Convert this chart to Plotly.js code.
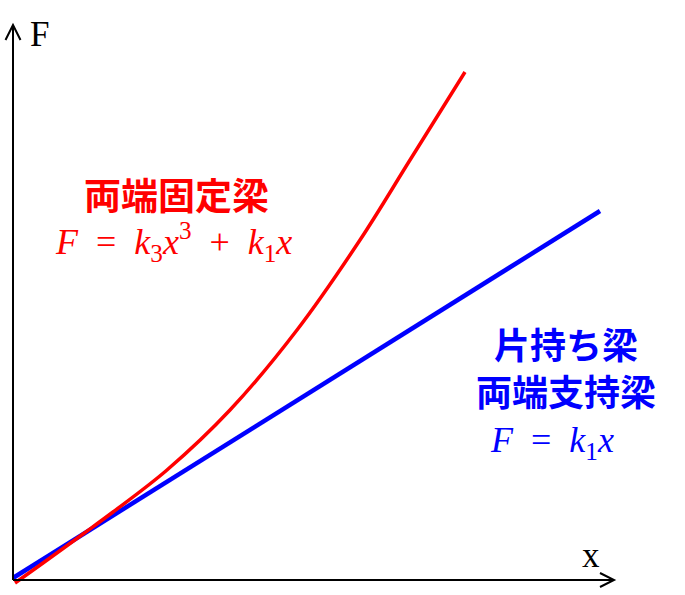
<!DOCTYPE html>
<html>
<head>
<meta charset="utf-8">
<script src="https://cdn.plot.ly/plotly-3.0.1.min.js"></script>
<style>html,body{margin:0;padding:0;background:#fff;}#chart{width:685px;height:595px;}</style>
</head>
<body>
<div id="chart"></div>
<script>
// Series values (x displacement, F force)
const linearX = [0, 587];
const linearY = [2, 369];
const cubicX = [2, 30, 70, 100, 154, 217, 284, 347, 397, 452];
const cubicY = [-3, 17, 46, 68, 110, 170, 250, 340, 420, 508];

// Labels
const SP = '&nbsp;&nbsp;';
const fixedTitle = '両端固定梁';
const fixedFormula = '<i>F</i>' + SP + '=' + SP + '<i>k</i><sub>3</sub><i>x</i><sup>3</sup>' + SP + '+' + SP + '<i>k</i><sub>1</sub><i>x</i>';
const linearTitle = '片持ち梁<br>両端支持梁';
const linearFormula = '<i>F</i>' + SP + '=' + SP + '<i>k</i><sub>1</sub><i>x</i>';
const xLabel = 'x';
const yLabel = 'F';

const RED = '#ff0000';
const BLUE = '#0000ff';
const CJK = "'Noto Sans CJK JP', 'Noto Sans CJK SC', sans-serif";
const SERIF = "'Liberation Serif', 'DejaVu Serif', serif";

const traces = [
  {x: linearX, y: linearY, mode: 'lines', line: {color: BLUE, width: 4.5}, hoverinfo: 'skip'},
  {x: cubicX, y: cubicY, mode: 'lines', line: {color: RED, width: 3.5, shape: 'spline', smoothing: 1}, hoverinfo: 'skip'}
];

const layout = {
  width: 685, height: 595,
  margin: {l: 0, r: 0, t: 0, b: 0},
  paper_bgcolor: '#fff', plot_bgcolor: '#fff',
  showlegend: false,
  xaxis: {range: [-13, 672], visible: false, fixedrange: true},
  yaxis: {range: [-15, 580], visible: false, fixedrange: true},
  shapes: [
    {type: 'line', xref: 'x', yref: 'y', x0: 0, y0: 0, x1: 0, y1: 555, line: {color: '#000', width: 2}},
    {type: 'line', xref: 'x', yref: 'y', x0: 0, y0: 0, x1: 601, y1: 0, line: {color: '#000', width: 2}},
    {type: 'path', xref: 'x', yref: 'y', path: 'M -7.5,540 L 0,555 L 7.5,540', line: {color: '#000', width: 2}},
    {type: 'path', xref: 'x', yref: 'y', path: 'M 587,7 L 601,0 L 587,-7', line: {color: '#000', width: 2}}
  ],
  annotations: [
    {x: 26, y: 546, xref: 'x', yref: 'y', text: yLabel, showarrow: false, xanchor: 'center', yanchor: 'middle',
     font: {family: SERIF, size: 35, color: '#000'}},
    {x: 578, y: 25, xref: 'x', yref: 'y', text: xLabel, showarrow: false, xanchor: 'center', yanchor: 'middle',
     font: {family: SERIF, size: 35, color: '#000'}},
    {x: 163, y: 386, xref: 'x', yref: 'y', text: '<b>' + fixedTitle + '</b>', showarrow: false, xanchor: 'center', yanchor: 'middle',
     font: {family: CJK, size: 37, color: RED}},
    {x: 160, y: 338, xref: 'x', yref: 'y', text: fixedFormula, showarrow: false, xanchor: 'center', yanchor: 'middle',
     font: {family: SERIF, size: 36, color: RED}},
    {x: 553, y: 214, xref: 'x', yref: 'y', text: '<b>' + linearTitle + '</b>', showarrow: false, xanchor: 'center', yanchor: 'middle',
     font: {family: CJK, size: 36, color: BLUE}},
    {x: 539, y: 138, xref: 'x', yref: 'y', text: linearFormula, showarrow: false, xanchor: 'center', yanchor: 'middle',
     font: {family: SERIF, size: 36, color: BLUE}}
  ]
};

Plotly.newPlot('chart', traces, layout, {displayModeBar: false, staticPlot: true});
</script>
</body>
</html>
